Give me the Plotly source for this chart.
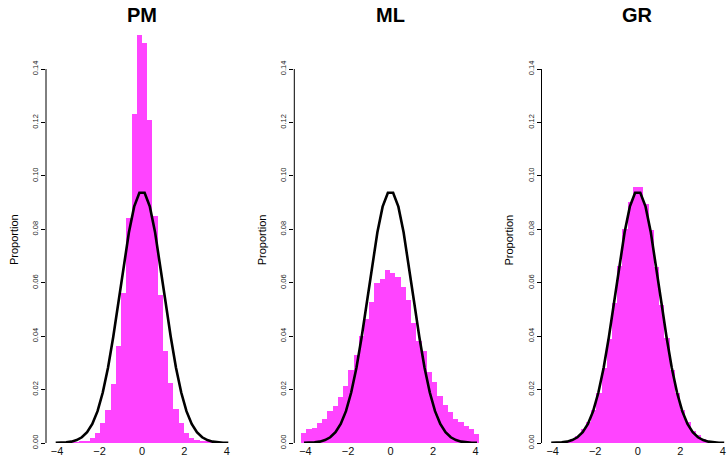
import plotly.graph_objects as go

# bin mid-points (bin width ~0.2465)
bin_mids = [-4.067, -3.821, -3.574, -3.328, -3.081, -2.835, -2.588, -2.342, -2.095, -1.849,
            -1.602, -1.356, -1.109, -0.863, -0.616, -0.370, -0.123,
            0.123, 0.370, 0.616, 0.863, 1.109, 1.356, 1.602, 1.849, 2.095,
            2.342, 2.588, 2.835, 3.081, 3.328, 3.574, 3.821, 4.067]
bin_width = 0.2465

pm_values = [0.0, 0.0, 0.0, 0.0001, 0.0002, 0.0004, 0.00075, 0.002, 0.0039, 0.0076,
             0.0124, 0.022, 0.0363, 0.0563, 0.0844, 0.1232, 0.1528,
             0.1499, 0.121, 0.085, 0.0554, 0.0344, 0.0226, 0.0127, 0.0076, 0.0039,
             0.002, 0.0011, 0.00075, 0.0004, 0.0002, 0.0001, 0.0, 0.0]

ml_values = [0.0039, 0.0051, 0.0056, 0.0074, 0.0090, 0.0120, 0.0140, 0.0171, 0.0213, 0.0273,
             0.0329, 0.0401, 0.0464, 0.0528, 0.0598, 0.0614, 0.0648,
             0.0638, 0.0623, 0.0584, 0.0535, 0.0448, 0.0382, 0.0344, 0.0266, 0.0227,
             0.0176, 0.0141, 0.0117, 0.0091, 0.0079, 0.0064, 0.0054, 0.0034]

gr_values = [0.0, 0.0001, 0.0002, 0.0006, 0.0015, 0.0026, 0.0051, 0.0077, 0.0124, 0.0188,
             0.0280, 0.0388, 0.0523, 0.0663, 0.0800, 0.0901, 0.0958,
             0.0958, 0.0895, 0.0797, 0.0660, 0.0517, 0.0392, 0.0273, 0.0186, 0.0124,
             0.0080, 0.0046, 0.0030, 0.0014, 0.0006, 0.0002, 0.0001, 0.0]

# reference normal curve (read at bin mid-points)
curve_y = [0.00004, 0.0001, 0.00023, 0.00051, 0.00108, 0.00214, 0.00402, 0.00712, 0.01192, 0.0189,
           0.0282, 0.0397, 0.0529, 0.0665, 0.0789, 0.0885, 0.0937,
           0.0937, 0.0885, 0.0789, 0.0665, 0.0529, 0.0397, 0.0282, 0.0189, 0.01192,
           0.00712, 0.00402, 0.00214, 0.00108, 0.00051, 0.00023, 0.0001, 0.00004]

titles = ["PM", "ML", "GR"]
series = [pm_values, ml_values, gr_values]

y_ticks = [0.00, 0.02, 0.04, 0.06, 0.08, 0.10, 0.12, 0.14]
y_ticktext = ["0.00", "0.02", "0.04", "0.06", "0.08", "0.10", "0.12", "0.14"]
x_ticks = [-4, -2, 0, 2, 4]
x_ticktext = ["\u22124", "\u22122", "0", "2", "4"]

W, H = 727, 463
domains = [[46 / W, 238 / W], [294.3 / W, 486.7 / W], [541.5 / W, 1.0]]
x_ranges = [[-4.525, 4.525], [-4.525, 4.525], [-4.525, 4.2]]

FONT = "Liberation Sans, Arial, Helvetica, sans-serif"
BAR_COLOR = "#ff44ff"

fig = go.Figure()
layout = dict(
    width=W, height=H,
    margin=dict(l=0, r=0, t=29, b=20),
    paper_bgcolor="white", plot_bgcolor="white",
    showlegend=False, bargap=0,
    font=dict(family=FONT, color="black"),
)
annotations = []
shapes = []
for i in range(3):
    xa = "x" if i == 0 else f"x{i+1}"
    ya = "y" if i == 0 else f"y{i+1}"
    fig.add_trace(go.Bar(x=bin_mids, y=series[i], width=bin_width,
                         marker=dict(color=BAR_COLOR, line=dict(width=0)),
                         xaxis=xa, yaxis=ya, hoverinfo="skip"))
    fig.add_trace(go.Scatter(x=bin_mids, y=curve_y, mode="lines",
                             line=dict(color="black", width=2.6),
                             xaxis=xa, yaxis=ya, hoverinfo="skip"))
    xkey = "xaxis" if i == 0 else f"xaxis{i+1}"
    ykey = "yaxis" if i == 0 else f"yaxis{i+1}"
    layout[xkey] = dict(domain=domains[i], range=x_ranges[i], anchor=ya,
                        tickvals=x_ticks, ticktext=x_ticktext, ticks="",
                        showline=False, showgrid=False, zeroline=False,
                        tickfont=dict(size=11, family=FONT, color="#111"))
    layout[ykey] = dict(domain=[0, 1], range=[0, 0.155], anchor=xa,
                        tickvals=y_ticks, ticktext=y_ticktext, ticks="outside",
                        ticklen=4, tickwidth=1, tickcolor="black", tickangle=-90,
                        showline=False, showgrid=False, zeroline=False,
                        tickfont=dict(size=7.5, family=FONT, color="#222"))
    xdom = xa + " domain"
    shapes.append(dict(type="line", xref=xdom, yref=ya, x0=0, x1=0, y0=0, y1=0.14,
                       line=dict(color="black", width=1)))
    annotations.append(dict(text="<b>" + titles[i] + "</b>", xref=xdom, yref="paper",
                            x=(4.525 / 9.05) if i < 2 else (4.525 / 8.725), y=1.034,
                            xanchor="center", yanchor="middle", showarrow=False,
                            font=dict(size=20, family=FONT, color="black")))
    annotations.append(dict(text="Proportion", xref=xdom, yref=ya, x=0, y=0.076,
                            xshift=-32, textangle=-90, xanchor="center", yanchor="middle",
                            showarrow=False, font=dict(size=11, family=FONT, color="black")))
layout["annotations"] = annotations
layout["shapes"] = shapes
fig.update_layout(**layout)
fig.write_html("out.html")
